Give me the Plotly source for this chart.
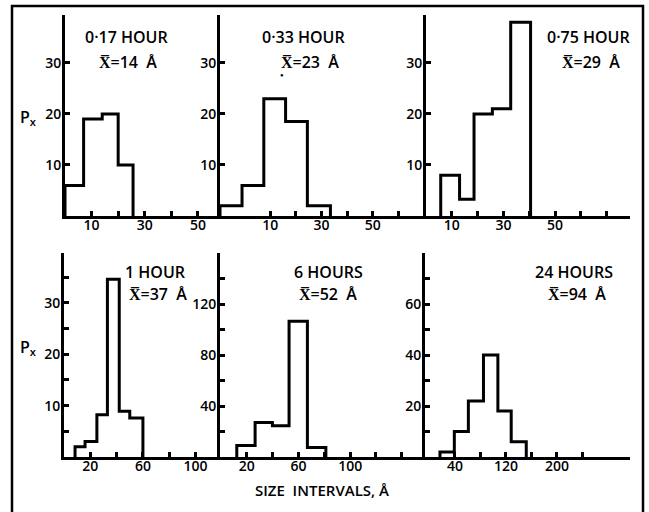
import plotly.graph_objects as go

W, H = 649, 512

# ---- data ----
titles = ["0·17 HOUR", "0·33 HOUR", "0·75 HOUR", "1 HOUR", "6 HOURS", "24 HOURS"]
means = [14, 23, 29, 37, 52, 94]

p1_edges = [0, 7, 14, 20, 25.6]
p1_vals = [6, 19, 20, 10]
p2_edges = [-9.6, -1, 7.5, 16, 24.5, 33.5]
p2_vals = [2, 6, 23, 18.5, 2]
p3_edges = [5.7, 13, 18.6, 25.7, 32.8, 40.5]
p3_vals = [8, 3.3, 20, 21, 38]
p4_edges = [8.4, 16, 25, 33, 42, 50, 60]
p4_vals = [2, 3, 8.2, 34.6, 8.9, 7.6]
p5_edges = [12.2, 26.4, 39.8, 52.7, 66.9, 81.2]
p5_vals = [9, 27, 24.5, 106.5, 7.5]
p6_edges = [16.5, 39, 61, 84.7, 107.3, 128.2, 151.8]
p6_vals = [2, 10, 22, 40, 18, 6]

# labelled ticks
x_major = [
    [10, 30, 50],
    [10, 30, 50],
    [10, 30, 50],
    [20, 60, 100],
    [20, 60, 100],
    [40, 120, 200],
]
# unlabelled ticks
x_minor = [
    [20, 40],
    [20, 40, 60],
    [20, 40, 60, 70],
    [40, 80],
    [40, 80, 120, 140],
    [80, 160, 240],
]
y_major = [
    [10, 20, 30],
    [10, 20, 30],
    [10, 20, 30],
    [10, 20, 30],
    [40, 80, 120],
    [20, 40, 60],
]
y_minor = [
    [],
    [],
    [],
    [5, 15, 25, 35],
    [20, 60, 100, 140],
    [10, 30, 50, 70],
]

edges_all = [p1_edges, p2_edges, p3_edges, p4_edges, p5_edges, p6_edges]
vals_all = [p1_vals, p2_vals, p3_vals, p4_vals, p5_vals, p6_vals]

# ---- layout geometry (pixels) ----
x_dom_px = [(65, 220), (220, 426), (426, 630), (64, 220), (220, 425), (425, 630)]
y_dom_px = [(216, 15)] * 3 + [(457, 253)] * 3
x_ranges = [[0, 58.3], [-9.6, 70.8], [0, 79], [0, 118.6], [-0.8, 158], [-7, 314.5]]
y_ranges = [[0, 39.4], [0, 39.4], [0, 39.4], [0, 39.7], [0, 160], [0, 80]]

FONT = "Open Sans"
WEIGHT = 600

fig = go.Figure()
for i in range(6):
    e = edges_all[i]
    v = vals_all[i]
    xs = [e[0]] + list(e)
    ys = [0] + list(v) + [0]
    sfx = "" if i == 0 else str(i + 1)
    fig.add_trace(go.Scatter(
        x=xs, y=ys, mode="lines", line=dict(color="black", width=3, shape="hv"),
        xaxis="x" + sfx, yaxis="y" + sfx, showlegend=False, hoverinfo="skip",
    ))

layout = dict(
    width=W, height=H, margin=dict(l=0, r=0, t=0, b=0),
    paper_bgcolor="white", plot_bgcolor="white",
    font=dict(family=FONT, color="black", size=14, weight=WEIGHT),
    showlegend=False,
)
common = dict(showline=True, linecolor="black", linewidth=3, ticks="inside",
              ticklen=5, tickwidth=3, tickcolor="black", showgrid=False,
              zeroline=False, tickfont=dict(family=FONT, size=14, color="black", weight=WEIGHT),
              fixedrange=True, tickmode="array")
for i in range(6):
    sfx = "" if i == 0 else str(i + 1)
    xd = [x_dom_px[i][0] / W, x_dom_px[i][1] / W]
    yd = [1 - y_dom_px[i][0] / H, 1 - y_dom_px[i][1] / H]
    layout["xaxis" + sfx] = dict(common, domain=xd, range=x_ranges[i],
                                 anchor="y" + sfx, tickvals=x_major[i],
                                 ticklabelstandoff=-6,
                                 minor=dict(tickmode="array", tickvals=x_minor[i], ticks="inside",
                                            ticklen=5, tickwidth=3, tickcolor="black", showgrid=False))
    layout["yaxis" + sfx] = dict(common, domain=yd, range=y_ranges[i],
                                 anchor="x" + sfx, tickvals=y_major[i],
                                 ticklabelstandoff=-2,
                                 minor=dict(tickmode="array", tickvals=y_minor[i], ticks="inside",
                                            ticklen=5, tickwidth=3, tickcolor="black", showgrid=False))
fig.update_layout(**layout)

def px(x, y):
    return x / W, 1 - y / H

ann = []
title_pos = [(126, 37), (303, 37), (588, 37), (155, 272), (328, 272), (574, 272)]
mean_pos = [(128, 62), (310, 62), (591, 62), (158, 294), (328, 294), (577, 294)]
for i in range(6):
    x, y = px(*title_pos[i])
    ann.append(dict(x=x, y=y, xref="paper", yref="paper", text=titles[i], showarrow=False,
                    font=dict(size=16, family=FONT, color="black", weight=WEIGHT),
                    xanchor="center", yanchor="middle"))
    x, y = px(*mean_pos[i])
    ann.append(dict(x=x, y=y, xref="paper", yref="paper",
                    text="X\u0305=" + str(means[i]) + "  Å", showarrow=False,
                    font=dict(size=16, family=FONT, color="black", weight=WEIGHT),
                    xanchor="center", yanchor="middle"))
for yy in (117, 347):
    x, y = px(28, yy)
    ann.append(dict(x=x, y=y, xref="paper", yref="paper", text="P<sub>x</sub>", showarrow=False,
                    font=dict(size=16, family=FONT, color="black", weight=WEIGHT),
                    xanchor="center", yanchor="middle"))
x, y = px(322, 490)
ann.append(dict(x=x, y=y, xref="paper", yref="paper", text="SIZE  INTERVALS, Å", showarrow=False,
                font=dict(size=15, family=FONT, color="black", weight=WEIGHT),
                xanchor="center", yanchor="middle"))
x, y = px(282, 75)
ann.append(dict(x=x, y=y, xref="paper", yref="paper", text="●", showarrow=False,
                font=dict(size=6, color="black"), xanchor="center", yanchor="middle"))
fig.update_layout(annotations=ann)

fig.add_shape(type="rect", xref="paper", yref="paper",
              x0=12 / W, x1=643 / W, y0=-0.05, y1=1 - 6 / H,
              line=dict(color="black", width=2.5), fillcolor="rgba(0,0,0,0)", layer="above")

fig.write_html("out.html", config={"displayModeBar": False},
               post_script="document.body.style.margin='0px';")
